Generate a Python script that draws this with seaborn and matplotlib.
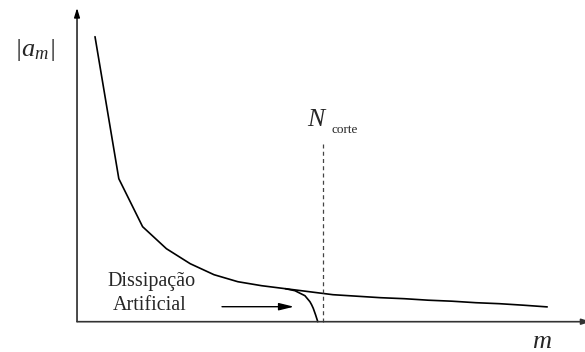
import matplotlib
matplotlib.use("Agg")
import matplotlib.pyplot as plt
import numpy as np
import pandas as pd
import seaborn as sns

# Spectral coefficient magnitudes |a_m| per mode m
modes = [1, 2, 3, 4, 5, 6, 7, 8, 9, 10, 11, 12, 13, 14, 15, 16, 17, 18, 19, 20]
amplitudes = [2.85, 1.43, 0.95, 0.73, 0.58, 0.47, 0.40, 0.36, 0.33, 0.30,
              0.27, 0.255, 0.24, 0.23, 0.215, 0.205, 0.19, 0.18, 0.165, 0.148]

# Damped branch produced by the artificial dissipation near the cutoff
damped_modes = [9.0, 9.4, 9.82, 10.03, 10.1, 10.17, 10.27, 10.36]
damped_amplitudes = [0.33, 0.31, 0.26, 0.20, 0.17, 0.134, 0.067, 0.0]

# Cutoff mode
n_cutoff = 10.57
cutoff_top = 1.787

x_label = "m"
y_label = r"$|a_m|$"
cutoff_main = "N"
cutoff_sub = "corte"
note_lines = ["Dissipação", "Artificial"]

sns.set_style("white")
plt.rcParams["font.family"] = ["Liberation Serif", "DejaVu Serif"]
plt.rcParams["mathtext.fontset"] = "custom"
plt.rcParams["mathtext.it"] = "Liberation Serif:italic"
plt.rcParams["mathtext.rm"] = "Liberation Serif:italic"
plt.rcParams["mathtext.default"] = "it"

W, H = 585, 352
fig = plt.figure(figsize=(W / 100, H / 100), dpi=100)
ax = fig.add_axes([0, 0, 1, 1])
ax.set_xlim(-2.992, 21.588)
ax.set_ylim(-0.303, 3.217)
ax.axis("off")


def px(x, y):
    return (x / W, 1 - y / H)


main_df = pd.DataFrame({"m": modes, "a": amplitudes})
damp_df = pd.DataFrame({"m": damped_modes, "a": damped_amplitudes})

sns.lineplot(data=main_df, x="m", y="a", ax=ax, color="black", lw=1.2,
             estimator=None, sort=True)
sns.lineplot(data=damp_df, x="m", y="a", ax=ax, color="black", lw=1.2,
             estimator=None, sort=True)

# Cutoff marker
ax.plot([n_cutoff, n_cutoff], [0, cutoff_top], color="#444444", lw=0.9,
        linestyle=(0, (3.2, 2.6)))

# Coordinate axes drawn as arrows
x0 = 0.244
ax.annotate("", xy=(x0, 3.137), xytext=(x0, 0),
            arrowprops=dict(arrowstyle="-|>,head_length=0.55,head_width=0.17",
                            color="black", lw=1.0, shrinkA=0, shrinkB=0))
ax.annotate("", xy=(21.84, 0), xytext=(x0, 0), annotation_clip=False,
            arrowprops=dict(arrowstyle="-|>,head_length=0.55,head_width=0.17",
                            color="#333333", lw=1.2, shrinkA=0, shrinkB=0))

# Labels
fig.text(*px(14, 56), y_label, fontsize=19, ha="left", va="baseline")
fig.text(*px(307, 125.7), cutoff_main, fontsize=18.5, style="italic",
         ha="left", va="baseline")
fig.text(*px(331, 133), cutoff_sub, fontsize=9.5, ha="left", va="baseline")
fig.text(*px(532, 348), x_label, fontsize=19, style="italic",
         ha="left", va="baseline")
fig.text(*px(152, 286), note_lines[0], fontsize=14.5, ha="center", va="baseline")
fig.text(*px(150, 310), note_lines[1], fontsize=14.5, ha="center", va="baseline")

# Pointer to the damped branch
ax.annotate("", xy=px(294, 306.7), xytext=px(222, 306.7),
            xycoords="figure fraction", textcoords="figure fraction",
            arrowprops=dict(arrowstyle="-|>,head_length=0.9,head_width=0.22",
                            color="black", lw=1.0, shrinkA=0, shrinkB=0))

fig.savefig("out.png", dpi=100)
